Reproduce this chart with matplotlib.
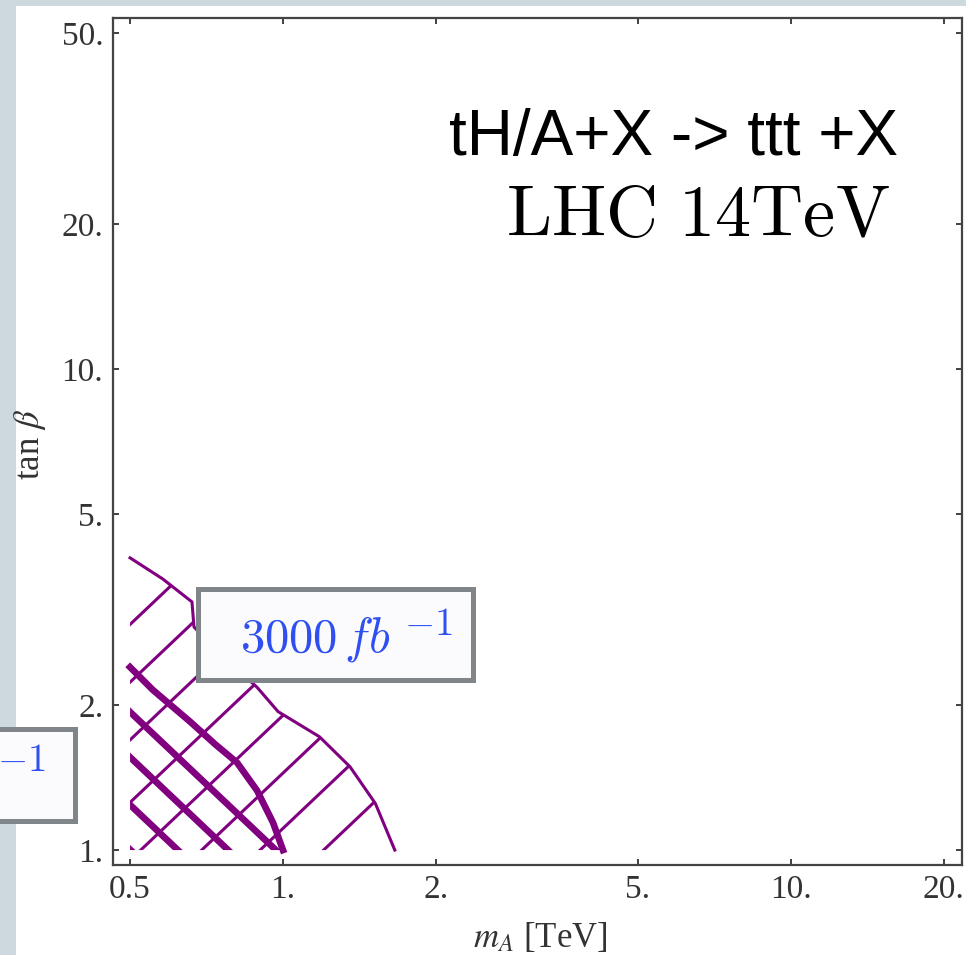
import matplotlib
matplotlib.use("Agg")
import numpy as np
import matplotlib.pyplot as plt
from matplotlib.patches import Rectangle, Polygon
from matplotlib.ticker import FixedLocator, FixedFormatter, NullLocator

# %%
# data (m_A in TeV, tan beta)
# outer (thin, 3000 fb^-1) region boundary
outer_mA = [0.50, 0.58, 0.662, 0.668, 0.735, 0.815, 0.889, 0.978, 1.18, 1.355, 1.52, 1.66]
outer_tanb = [4.05, 3.66, 3.28, 2.91, 2.61, 2.37, 2.18, 1.94, 1.72, 1.49, 1.25, 1.0]
# inner (thick, 300 fb^-1) region boundary
inner_mA = [0.50, 0.555, 0.656, 0.735, 0.812, 0.889, 0.956, 1.0]
inner_tanb = [2.40, 2.15, 1.85, 1.66, 1.52, 1.33, 1.14, 1.0]
# mesh lines: log10(tanb/mA) for "/" lines, log10(tanb*mA) for "\" lines
slash_mesh = [0.77, 0.65, 0.53, 0.40, 0.28, 0.16, 0.045, -0.08]
back_mesh = [-0.014, -0.108, -0.207, -0.30]

xticks = [0.5, 1, 2, 5, 10, 20]
xticklabels = ["0.5", "1.", "2.", "5.", "10.", "20."]
yticks = [1, 2, 5, 10, 20, 50]
yticklabels = ["1.", "2.", "5.", "10.", "20.", "50."]

purple = "#800080"
blue = "#2f4ff0"

plt.rcParams["font.family"] = ["Liberation Serif", "DejaVu Serif"]

W, H = 966, 955
fig = plt.figure(figsize=(W / 100, H / 100), dpi=100)
fig.patch.set_facecolor("#cdd9df")


def fx(px):
    return px / W


def fy(py):
    return 1 - py / H


# white panel of the screenshot
fig.add_artist(Rectangle((fx(16), 0), 1 - fx(16), fy(6), transform=fig.transFigure,
                         facecolor="white", edgecolor="none", zorder=-10))

ax = fig.add_axes([fx(113), fy(865), fx(962) - fx(113), fy(18) - fy(865)])
ax.set_xscale("log")
ax.set_yscale("log")
ax.set_xlim(0.4628, 21.71)
ax.set_ylim(0.931, 53.66)

# %%
# regions
outer_poly = Polygon(np.column_stack([outer_mA + [0.5], outer_tanb + [1.0]]),
                     closed=True, facecolor="none", edgecolor="none")
inner_poly = Polygon(np.column_stack([inner_mA + [0.5], inner_tanb + [1.0]]),
                     closed=True, facecolor="none", edgecolor="none")
ax.add_patch(outer_poly)
ax.add_patch(inner_poly)

m = np.array([0.4, 3.0])
for c in slash_mesh:
    ln, = ax.plot(m, m * 10 ** c, color=purple, lw=2.2, solid_capstyle="butt")
    ln.set_clip_path(outer_poly)
for d in back_mesh:
    ln, = ax.plot(m, 10 ** d / m, color=purple, lw=4.8, solid_capstyle="butt")
    ln.set_clip_path(inner_poly)

ax.plot(outer_mA, outer_tanb, color=purple, lw=2.2, solid_joinstyle="round")
ax.plot(inner_mA, inner_tanb, color=purple, lw=4.8, solid_joinstyle="round")

# %%
# axes styling
ax.xaxis.set_major_locator(FixedLocator(xticks))
ax.xaxis.set_major_formatter(FixedFormatter(xticklabels))
ax.yaxis.set_major_locator(FixedLocator(yticks))
ax.yaxis.set_major_formatter(FixedFormatter(yticklabels))
ax.xaxis.set_minor_locator(NullLocator())
ax.yaxis.set_minor_locator(NullLocator())
ax.tick_params(which="major", direction="in", length=4, width=1.3, top=True, right=True,
               colors="#333333", labelsize=24, pad=7)
for s in ax.spines.values():
    s.set_color("#444444")
    s.set_linewidth(1.6)

ax.set_xlabel(r"$m_A$ [TeV]", fontsize=25, color="#333333", math_fontfamily="stix")
ax.xaxis.set_label_coords((540 - 113) / 849, (865 - 938) / 847)
ax.xaxis.label.set_va("center")
ax.set_ylabel(r"tan $\beta$", fontsize=25, color="#333333", math_fontfamily="stix")
ax.yaxis.set_label_coords((30 - 113) / 849, (865 - 444) / 847)
ax.yaxis.label.set_va("center")

# %%
# annotations
fig.text(fx(898), fy(155), "tH/A+X -> ttt +X", ha="right", va="baseline",
         fontsize=46, family="Liberation Sans", color="black")
fig.text(fx(890), fy(236), r"$\mathrm{LHC\ 14TeV}$", ha="right", va="baseline",
         fontsize=52, math_fontfamily="cm", color="black")

box_kw = dict(transform=fig.transFigure, facecolor="#fbfbfe", edgecolor="#808589",
              linewidth=3.6, zorder=5)
fig.add_artist(Rectangle((fx(197.5), fy(679.5)), fx(472.5) - fx(197.5), fy(589.5) - fy(679.5), **box_kw))
fig.add_artist(Rectangle((fx(-10), fy(820.5)), fx(74.5) - fx(-10), fy(728.5) - fy(820.5), **box_kw))
# luminosity labels (Mathematica draws the exponent almost full size)
fig.text(fx(240), fy(652), r"$3000\,fb$", ha="left", va="baseline", fontsize=35,
         color=blue, math_fontfamily="cm", zorder=6)
fig.text(fx(453), fy(635), r"$-1$", ha="right", va="baseline", fontsize=28,
         color=blue, math_fontfamily="cm", zorder=6)
fig.text(fx(46), fy(771), r"$-1$", ha="right", va="baseline", fontsize=28,
         color=blue, math_fontfamily="cm", zorder=6)

fig.savefig("out.png", dpi=100, facecolor=fig.get_facecolor())
